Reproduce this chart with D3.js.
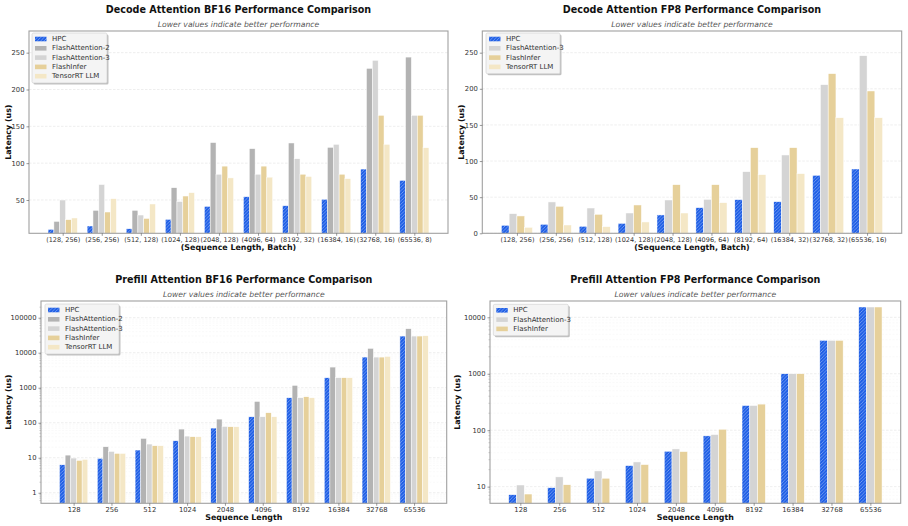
<!DOCTYPE html>
<html>
<head>
<meta charset="utf-8">
<script src="https://cdn.jsdelivr.net/npm/d3@7/dist/d3.min.js"></script>
<style>
  html, body { margin: 0; padding: 0; background: #fff; }
  svg { display: block; font-family: "DejaVu Sans", sans-serif; }
</style>
</head>
<body>
<svg id="chart" width="908" height="526"></svg>
<script>
// ---------- Data ----------
const decodeBF16Categories = ["(128, 256)", "(256, 256)", "(512, 128)", "(1024, 128)", "(2048, 128)", "(4096, 64)", "(8192, 32)", "(16384, 16)", "(32768, 16)", "(65536, 8)"];
const decodeBF16_HPC  = [10.2, 14.7, 11, 23.8, 41.4, 54.5, 42.3, 51, 92, 76.7];
const decodeBF16_FA2  = [21, 36, 36, 66.7, 128, 119.7, 127.4, 121.5, 228.7, 244];
const decodeBF16_FA3  = [50, 71, 29.6, 48, 85, 85, 106, 125.6, 239.6, 165];
const decodeBF16_FI   = [23.3, 33.7, 25, 55.4, 96, 96, 85, 85, 165, 165];
const decodeBF16_TRT  = [25.6, 51.8, 44.6, 60, 80, 81, 82, 79, 125.6, 121];

const decodeFP8Categories = ["(128, 256)", "(256, 256)", "(512, 128)", "(1024, 128)", "(2048, 128)", "(4096, 64)", "(8192, 64)", "(16384, 32)", "(32768, 32)", "(65536, 16)"];
const decodeFP8_HPC = [11.1, 12.5, 9.7, 13.8, 25.4, 35.5, 46.6, 43.8, 80.3, 89];
const decodeFP8_FA3 = [27.2, 43.4, 35, 28.1, 46.1, 47, 85.3, 108.4, 205.7, 245.8];
const decodeFP8_FI  = [24, 37.4, 26.3, 39.2, 67.3, 67.3, 118.5, 118.5, 221, 197];
const decodeFP8_TRT = [8.3, 11.5, 9.2, 15.7, 28.1, 42.4, 81.2, 82.6, 160, 160];

const prefillCategories = ["128", "256", "512", "1024", "2048", "4096", "8192", "16384", "32768", "65536"];
const prefillBF16_HPC = [6.3, 9.6, 16.6, 30.6, 70.4, 148, 518, 1931, 7517, 29900];
const prefillBF16_FA2 = [11.9, 20.6, 35.7, 65.9, 127, 407, 1167, 3890, 13300, 48500];
const prefillBF16_FA3 = [9.8, 15.2, 24.6, 41.6, 78.5, 148, 518, 1931, 7500, 29900];
const prefillBF16_FI  = [8.4, 13.3, 22, 39.8, 76.7, 193, 553, 1931, 7500, 29900];
const prefillBF16_TRT = [9.0, 13.3, 22, 39.8, 76.7, 148, 518, 1931, 7860, 30600];

const prefillFP8_HPC = [7.2, 9.6, 14.1, 23.6, 42.4, 79.4, 274, 1000, 3908, 15240];
const prefillFP8_FA3 = [10.7, 14.9, 19, 27.4, 46.6, 83.8, 274, 1000, 3908, 15240];
const prefillFP8_FI  = [7.4, 10.8, 14.1, 24.6, 41.8, 104, 290, 1000, 3908, 15240];

const decodeTicks = [0, 50, 100, 150, 200, 250];
const prefillBF16Ticks = [1, 10, 100, 1000, 10000, 100000];
const prefillFP8Ticks = [10, 100, 1000, 10000];

const seriesNames = ["HPC", "FlashAttention-2", "FlashAttention-3", "FlashInfer", "TensorRT LLM"];
const seriesColors = {
  "HPC": "#1f5fe6",
  "FlashAttention-2": "#b3b3b3",
  "FlashAttention-3": "#d4d4d4",
  "FlashInfer": "#e6d09a",
  "TensorRT LLM": "#f4e7c6"
};

// ---------- Panels ----------
const panels = [
  { title: "Decode Attention BF16 Performance Comparison", xlabel: "(Sequence Length, Batch)",
    cats: decodeBF16Categories, log: false, domain: [4.8, 279.4], ticks: decodeTicks, barW: 0.15,
    series: [["HPC", decodeBF16_HPC], ["FlashAttention-2", decodeBF16_FA2], ["FlashAttention-3", decodeBF16_FA3], ["FlashInfer", decodeBF16_FI], ["TensorRT LLM", decodeBF16_TRT]],
    box: { x0: 29, x1: 448, y0: 31, y1: 233.3 }, titleY: 9, subY: 24.5, legend: { x: 32, y: 33, w: 75 }, xfs: 6.5 },
  { title: "Decode Attention FP8 Performance Comparison", xlabel: "(Sequence Length, Batch)",
    cats: decodeFP8Categories, log: false, domain: [0, 280], ticks: decodeTicks, barW: 0.2,
    series: [["HPC", decodeFP8_HPC], ["FlashAttention-3", decodeFP8_FA3], ["FlashInfer", decodeFP8_FI], ["TensorRT LLM", decodeFP8_TRT]],
    box: { x0: 482.3, x1: 901.7, y0: 31, y1: 233.3 }, titleY: 9, subY: 24.5, legend: { x: 486, y: 33, w: 74 }, xfs: 6.5 },
  { title: "Prefill Attention BF16 Performance Comparison", xlabel: "Sequence Length",
    cats: prefillCategories, log: true, domain: [0.5, 3e5], ticks: prefillBF16Ticks, barW: 0.15,
    series: [["HPC", prefillBF16_HPC], ["FlashAttention-2", prefillBF16_FA2], ["FlashAttention-3", prefillBF16_FA3], ["FlashInfer", prefillBF16_FI], ["TensorRT LLM", prefillBF16_TRT]],
    box: { x0: 41, x1: 446.7, y0: 301, y1: 503.3 }, titleY: 279, subY: 294, legend: { x: 45, y: 304, w: 74 }, xfs: 6.8 },
  { title: "Prefill Attention FP8 Performance Comparison", xlabel: "Sequence Length",
    cats: prefillCategories, log: true, domain: [5.07, 19460], ticks: prefillFP8Ticks, barW: 0.2,
    series: [["HPC", prefillFP8_HPC], ["FlashAttention-3", prefillFP8_FA3], ["FlashInfer", prefillFP8_FI]],
    box: { x0: 490, x1: 900.7, y0: 301, y1: 503.3 }, titleY: 279, subY: 294, legend: { x: 493.3, y: 304.3, w: 75 }, xfs: 6.8 }
];

const svg = d3.select("#chart");
const defs = svg.append("defs");
const pat = defs.append("pattern").attr("id", "hatch").attr("patternUnits", "userSpaceOnUse")
  .attr("width", 3.4).attr("height", 3.4);
pat.append("rect").attr("width", 3.4).attr("height", 3.4).attr("fill", seriesColors["HPC"]);
pat.append("path").attr("d", "M-0.85,0.85 L0.85,-0.85 M0,3.4 L3.4,0 M2.55,4.25 L4.25,2.55")
  .attr("stroke", "#ffffff").attr("stroke-width", 0.5).attr("stroke-opacity", 0.7);

const shadowF = defs.append("filter").attr("id", "blur").attr("x", "-10%").attr("y", "-10%").attr("width", "130%").attr("height", "130%");
shadowF.append("feGaussianBlur").attr("stdDeviation", 0.6);

function fillFor(name) { return name === "HPC" ? "url(#hatch)" : seriesColors[name]; }

panels.forEach(p => {
  const g = svg.append("g");
  const b = p.box;
  const n = p.series.length;
  const half = n * p.barW / 2;
  const span = (p.cats.length - 1) + 2 * half;
  const m = 0.05 * span;
  const x = d3.scaleLinear().domain([-half - m, p.cats.length - 1 + half + m]).range([b.x0, b.x1]);
  const y = (p.log ? d3.scaleLog() : d3.scaleLinear()).domain(p.domain).range([b.y1, b.y0]);

  // grid
  const grid = g.append("g");
  if (p.log) {
    const lo = Math.floor(Math.log10(p.domain[0])), hi = Math.ceil(Math.log10(p.domain[1]));
    const minors = [];
    for (let e = lo; e <= hi; e++) for (let k = 2; k <= 9; k++) {
      const v = k * Math.pow(10, e);
      if (v > p.domain[0] && v < p.domain[1]) minors.push(v);
    }
    grid.selectAll(".mg").data(minors).join("line")
      .attr("x1", b.x0).attr("x2", b.x1).attr("y1", d => y(d)).attr("y2", d => y(d))
      .attr("stroke", "#f0f0f0").attr("stroke-width", 0.35).attr("stroke-dasharray", "2,1.5");
    grid.selectAll(".mt").data(minors).join("line")
      .attr("x1", b.x0 - 1.5).attr("x2", b.x0).attr("y1", d => y(d)).attr("y2", d => y(d))
      .attr("stroke", "#888").attr("stroke-width", 0.45);
  }
  const majors = p.ticks.filter(t => t >= p.domain[0] && t <= p.domain[1]);
  grid.selectAll(".g").data(majors).join("line")
    .attr("x1", b.x0).attr("x2", b.x1).attr("y1", d => y(d)).attr("y2", d => y(d))
    .attr("stroke", "#e2e2e2").attr("stroke-width", 0.6).attr("stroke-dasharray", "2.5,1.5");

  // bars
  p.series.forEach(([name, vals], i) => {
    const off = (i - (n - 1) / 2) * p.barW;
    g.append("g").selectAll("rect").data(vals).join("rect")
      .attr("x", (d, j) => x(j + off - p.barW / 2))
      .attr("width", x(p.barW) - x(0))
      .attr("y", d => y(d))
      .attr("height", d => b.y1 - y(d))
      .attr("fill", fillFor(name))
      .attr("stroke", "#ffffff").attr("stroke-width", 0.5);
  });

  // frame
  g.append("rect").attr("x", b.x0).attr("y", b.y0).attr("width", b.x1 - b.x0).attr("height", b.y1 - b.y0)
    .attr("fill", "none").attr("stroke", "#a0a0a0").attr("stroke-width", 1.1);

  // y axis
  const yAxis = d3.axisLeft(y).tickValues(majors).tickSize(2.5).tickPadding(2)
    .tickFormat(d => String(d));
  const ya = g.append("g").attr("transform", `translate(${b.x0},0)`).call(yAxis);
  ya.select(".domain").remove();
  ya.selectAll("line").attr("stroke", "#555").attr("stroke-width", 0.6);
  ya.selectAll("text").attr("font-size", 6.8).attr("fill", "#333").attr("font-family", "DejaVu Sans");

  // x axis
  const xAxis = d3.axisBottom(x).tickValues(d3.range(p.cats.length)).tickSize(2.5).tickPadding(1.5)
    .tickFormat(i => p.cats[i]);
  const xa = g.append("g").attr("transform", `translate(0,${b.y1})`).call(xAxis);
  xa.select(".domain").remove();
  xa.selectAll("line").attr("stroke", "#555").attr("stroke-width", 0.6);
  xa.selectAll("text").attr("font-size", p.xfs).attr("fill", "#333").attr("font-family", "DejaVu Sans");

  const cx = (b.x0 + b.x1) / 2;
  g.append("text").attr("x", cx).attr("y", p.titleY).attr("text-anchor", "middle").attr("dominant-baseline", "central")
    .attr("font-size", 9.6).attr("font-weight", "bold").attr("fill", "#111").text(p.title);
  g.append("text").attr("x", cx).attr("y", p.subY).attr("text-anchor", "middle").attr("dominant-baseline", "central")
    .attr("font-size", 7.7).attr("font-style", "italic").attr("fill", "#555").text("Lower values indicate better performance");
  g.append("text").attr("x", cx).attr("y", b.y1 + 14).attr("text-anchor", "middle").attr("dominant-baseline", "central")
    .attr("font-size", 7.9).attr("font-weight", "bold").attr("fill", "#111").text(p.xlabel);
  const ylx = b.x0 - (p.log ? 33 : 21);
  g.append("text").attr("transform", `translate(${ylx},${(b.y0 + b.y1) / 2}) rotate(-90)`)
    .attr("text-anchor", "middle").attr("dominant-baseline", "central")
    .attr("font-size", 7.9).attr("font-weight", "bold").attr("fill", "#111").text("Latency (us)");

  // legend
  const L = p.legend;
  const rowH = 9.3;
  const lh = n * rowH + 3.5;
  const lg = g.append("g");
  lg.append("rect").attr("x", L.x + 1.5).attr("y", L.y + 1.5).attr("width", L.w).attr("height", lh)
    .attr("rx", 1.5).attr("fill", "#999").attr("opacity", 0.6).attr("filter", "url(#blur)");
  lg.append("rect").attr("x", L.x).attr("y", L.y).attr("width", L.w).attr("height", lh)
    .attr("rx", 1.5).attr("fill", "#f4f4f4").attr("stroke", "#cfcfcf").attr("stroke-width", 0.6);
  p.series.forEach(([name], i) => {
    const ry = L.y + 6 + i * rowH;
    lg.append("rect").attr("x", L.x + 3).attr("y", ry - 2.3).attr("width", 11.5).attr("height", 4.6)
      .attr("fill", fillFor(name));
    lg.append("text").attr("x", L.x + 20).attr("y", ry).attr("dominant-baseline", "central")
      .attr("font-size", 7).attr("fill", "#333").text(name);
  });
});
</script>
</body>
</html>
